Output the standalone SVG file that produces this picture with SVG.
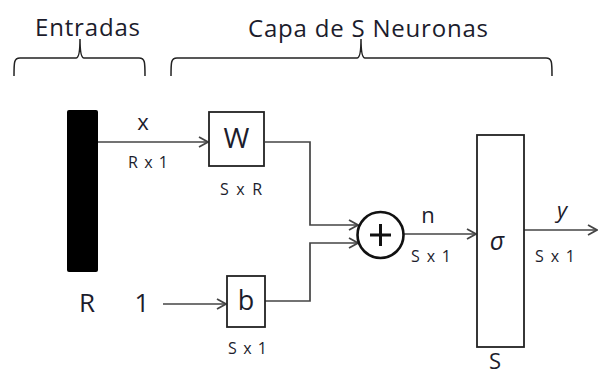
<svg xmlns="http://www.w3.org/2000/svg" width="598" height="375" viewBox="0 0 598 375">
<style>
text{font-family:"Open Sans","Liberation Sans",sans-serif;fill:#1c1c2c}
.big{font-size:24px}
.sm{font-size:16px}
.box{fill:#fff;stroke:#222;stroke-width:1.8}
.ln{fill:none;stroke:#444;stroke-width:1.7}
.br{fill:none;stroke:#222;stroke-width:1.5}
</style>
<defs>
<marker id="ah" viewBox="0 0 12 12" refX="11" refY="6" markerWidth="12" markerHeight="12" markerUnits="userSpaceOnUse" orient="auto">
<path d="M2,1 L11,6 L2,11" fill="none" stroke="#444" stroke-width="1.8"/>
</marker>
</defs>
<rect width="598" height="375" fill="#fff"/>
<g id="braces">
<path class="br" d="M14,76 C14,62 14,58 20,58 L76,58 C79,58 80,50 80,39 C80,50 81,58 84,58 L139,58 C145,58 145,62 145,76"/>
<path class="br" d="M171,76 C171,62 171,58 177,58 L357,58 C360,58 361,50 361,39 C361,50 362,58 365,58 L546,58 C552,58 552,62 552,76"/>
<text class="big" x="35" y="36" textLength="105">Entradas</text>
<text class="big" x="248" y="37" textLength="240">Capa de S Neuronas</text>
</g>
<g id="connectors">
<path class="ln" d="M98,142 H208" marker-end="url(#ah)"/>
<path class="ln" d="M163,304 H226" marker-end="url(#ah)"/>
<path class="ln" d="M265,142 H310 V225 H358" marker-end="url(#ah)"/>
<path class="ln" d="M265,301 H310 V243 H358" marker-end="url(#ah)"/>
<path class="ln" d="M404,234 H476" marker-end="url(#ah)"/>
<path class="ln" d="M524,230 H597" marker-end="url(#ah)"/>
<text x="143" y="130" font-size="22" text-anchor="middle">x</text>
<text class="sm" x="128" y="168" textLength="40">R x 1</text>
<text x="428" y="223" font-size="22" text-anchor="middle">n</text>
<text class="sm" x="411" y="262" textLength="40">S x 1</text>
<text x="562" y="218" font-size="22" font-style="italic" text-anchor="middle">y</text>
<text class="sm" x="535" y="262" textLength="40">S x 1</text>
</g>
<g id="input">
<rect x="67" y="110" width="31" height="162" rx="2" fill="#000"/>
<text x="87" y="312" font-size="26" text-anchor="middle">R</text>
</g>
<g id="bias-input">
<text x="142" y="312" font-size="26" text-anchor="middle">1</text>
</g>
<g id="W">
<rect class="box" x="209" y="112" width="55" height="54"/>
<text x="236.5" y="148" font-size="28" text-anchor="middle">W</text>
<text class="sm" x="220" y="195" textLength="42">S x R</text>
</g>
<g id="b">
<rect class="box" x="227" y="276" width="38" height="51"/>
<text x="246" y="310" font-size="27" text-anchor="middle">b</text>
<text class="sm" x="228" y="354" textLength="39">S x 1</text>
</g>
<g id="sum">
<circle cx="380.5" cy="235" r="23" fill="#fff" stroke="#111" stroke-width="2.6"/>
<path d="M370,235 H391 M380.5,224 V246" stroke="#111" stroke-width="3" fill="none"/>
</g>
<g id="sigma">
<rect class="box" x="477" y="135" width="47" height="212"/>
<text x="497" y="250" font-size="25" font-style="italic" text-anchor="middle">σ</text>
<text x="495" y="369" font-size="22" text-anchor="middle">S</text>
</g>
</svg>
